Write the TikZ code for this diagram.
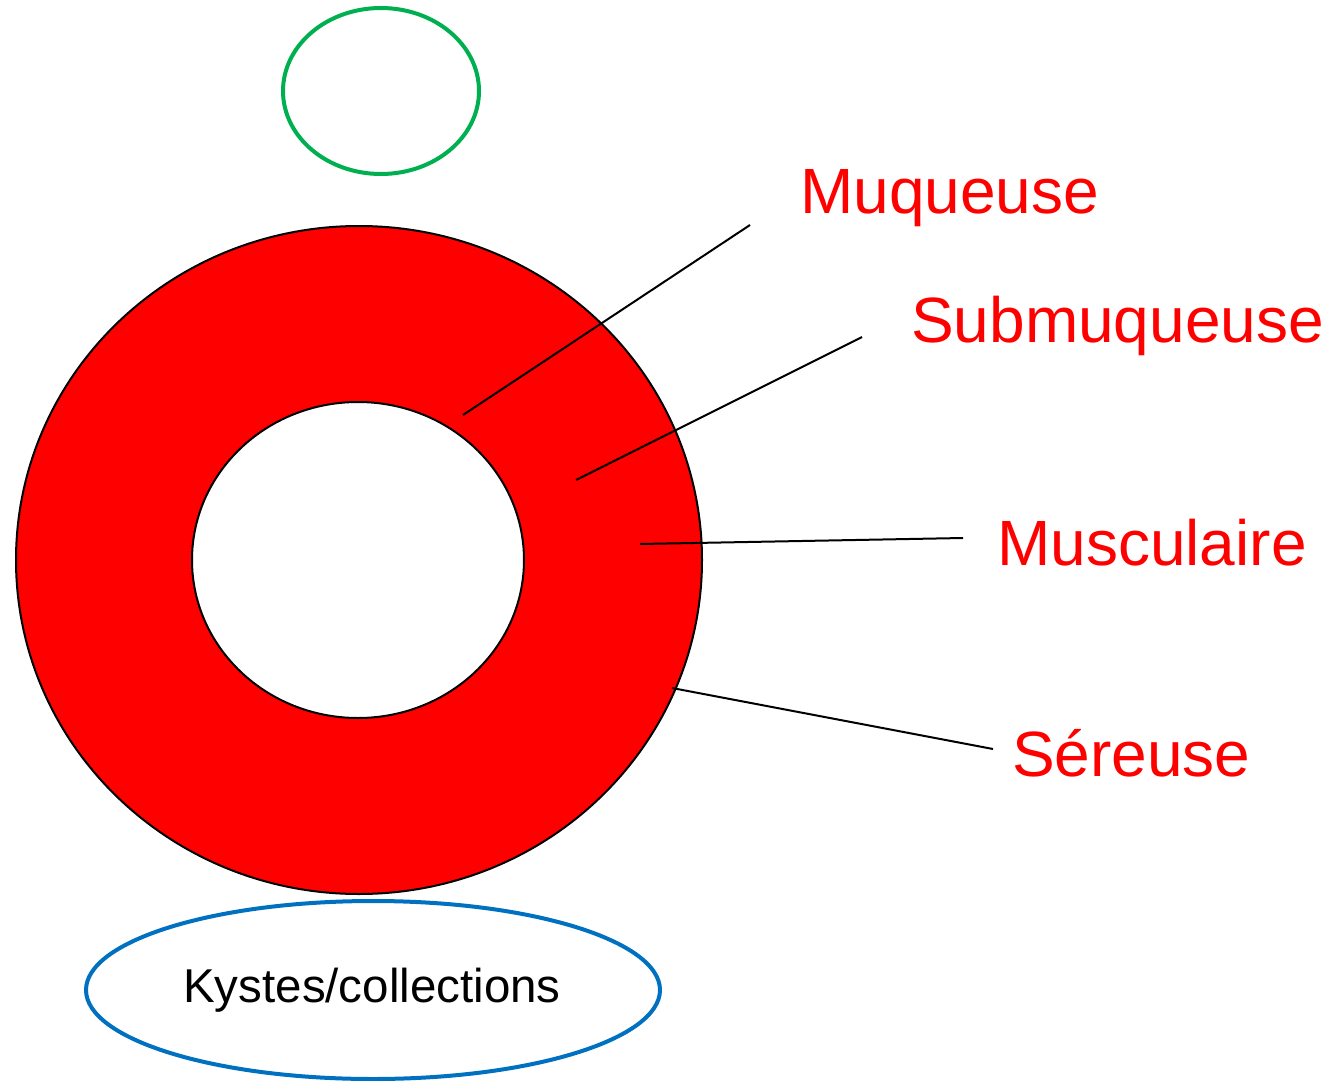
\documentclass[tikz,border=0pt]{standalone}
\usepackage{fontspec}
\setmainfont{Liberation Sans}
\definecolor{ringred}{RGB}{255,0,0}
\definecolor{pkgreen}{RGB}{0,176,80}
\definecolor{pkblue}{RGB}{0,112,192}
\tikzset{
  layer/.style={anchor=base west,text=ringred,font=\fontsize{64}{70}\selectfont,inner sep=0pt},
  pointer/.style={black,line width=2pt}
}
\begin{document}
\begin{tikzpicture}[x=1pt,y=-1pt]
      \useasboundingbox (0,0) rectangle (1339,1081);
      \draw[pkgreen,line width=4pt] (381,91) ellipse (98 and 83);
      \fill[ringred,even odd rule] (359,560) ellipse (343 and 334) (358,560) ellipse (166 and 158);
      \draw[line width=2pt] (359,560) ellipse (343 and 334);
      \draw[line width=2pt] (358,560) ellipse (166 and 158);
      \draw[pkblue,line width=4pt] (373,990) ellipse (287 and 89);
      \node[font=\fontsize{47.5}{52}\selectfont,anchor=base,inner sep=0pt] (K) at (372,1002) {Kystes/collections};
      \node[layer] (M1) at (800,213) {Muqueuse};
      \node[layer] (M2) at (911,342) {Submuqueuse};
      \node[layer] (M3) at (997,565) {Musculaire};
      \node[layer] (M4) at (1012,776) {Séreuse};
      \coordinate (P1) at (463,415);
      \coordinate (Q1) at (750,225);
      \coordinate (P2) at (576,480);
      \coordinate (Q2) at (862,337);
      \coordinate (P3) at (640,544);
      \coordinate (Q3) at (963,538);
      \coordinate (P4) at (672,688);
      \coordinate (Q4) at (993,749);
      \draw[pointer] (P1) -- (Q1);
      \draw[pointer] (P2) -- (Q2);
      \draw[pointer] (P3) -- (Q3);
      \draw[pointer] (P4) -- (Q4);
    \end{tikzpicture}
\end{document}
